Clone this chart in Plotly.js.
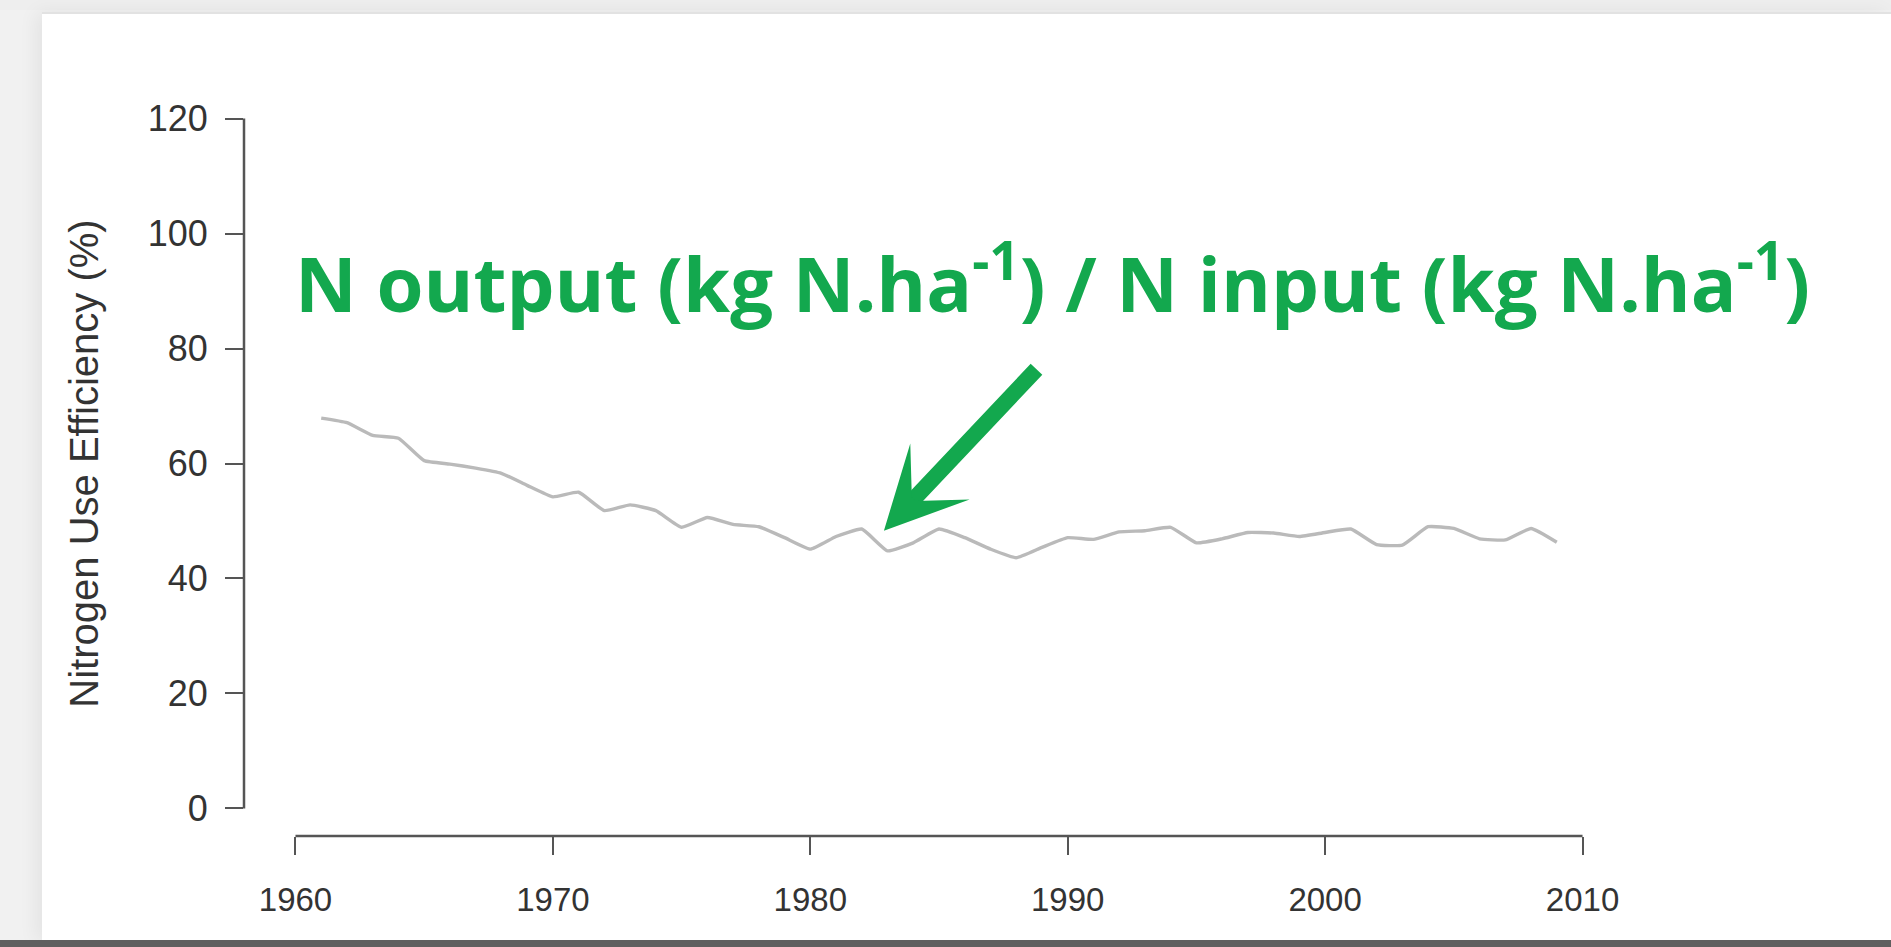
<!DOCTYPE html>
<html>
<head>
<meta charset="utf-8">
<script src="https://cdn.plot.ly/plotly-3.0.1.min.js"></script>
<style>
  html, body { margin: 0; padding: 0; width: 1891px; height: 947px; overflow: hidden; background: #f1f1f1; }
  #topband { position: absolute; left: 0; top: 0; width: 1891px; height: 10px; background: #eeeeee; }
  #card { position: absolute; left: 42px; top: 12px; width: 1849px; height: 927px; background: #ffffff;
          box-shadow: -6px 0 18px rgba(0,0,0,0.06); border-top: 2px solid #e2e2e2; }
  #bottomband { position: absolute; left: 0; top: 940px; width: 1891px; height: 7px; background: #5f5f5f; }
  #chart { position: absolute; left: 0; top: 0; width: 1891px; height: 947px; }
</style>
</head>
<body>
<div id="topband"></div>
<div id="card"></div>
<div id="bottomband"></div>
<div id="chart"></div>
<script>
// ---- data ----
const years = [1961,1962,1963,1964,1965,1966,1967,1968,1969,1970,
               1971,1972,1973,1974,1975,1976,1977,1978,1979,1980,
               1981,1982,1983,1984,1985,1986,1987,1988,1989,1990,
               1991,1992,1993,1994,1995,1996,1997,1998,1999,2000,
               2001,2002,2003,2004,2005,2006,2007,2008,2009];
const nue = [67.9,67.1,64.9,64.4,60.5,59.9,59.2,58.3,56.2,54.2,
             55.0,51.8,52.8,51.8,48.9,50.6,49.4,49.0,47.1,45.1,
             47.3,48.6,44.8,46.2,48.6,47.1,45.1,43.6,45.4,47.1,
             46.8,48.1,48.3,48.9,46.2,46.9,48.0,47.9,47.3,48.0,
             48.6,45.9,45.8,49.0,48.7,46.9,46.7,48.7,46.3];
const xTicks = [1960,1970,1980,1990,2000,2010];
const yTicks = [0,20,40,60,80,100,120];
const yTitle = "Nitrogen Use Efficiency (%)";
const noteText = "N output (kg N.ha<sup>-1</sup>) / N input (kg N.ha<sup>-1</sup>)";
const arrowTip = {x: 1982.86, y: 48.3};

const axisColor = "#555555";
const fam = "Liberation Sans, Arial, sans-serif";

const trace = {
  x: years, y: nue, type: "scatter", mode: "lines",
  line: {color: "#bababa", width: 3.4, shape: "spline", smoothing: 0.4},
  hoverinfo: "skip", showlegend: false
};

const layout = {
  width: 1891, height: 947,
  margin: {l: 243.5, r: 257, t: 91.4, b: 111.4, pad: 0},
  paper_bgcolor: "rgba(0,0,0,0)",
  plot_bgcolor: "rgba(0,0,0,0)",
  showlegend: false,
  xaxis: {
    range: [1958, 2012], showgrid: false, zeroline: false, showline: false,
    tickmode: "array", tickvals: xTicks, ticktext: xTicks.map(String),
    ticks: "outside", ticklen: 18, tickwidth: 2, tickcolor: axisColor,
    tickfont: {family: fam, size: 33, color: "#333333"},
    ticklabelstandoff: 16, automargin: false, fixedrange: true
  },
  yaxis: {
    range: [-4.8, 124.8], showgrid: false, zeroline: false, showline: false,
    tickmode: "array", tickvals: yTicks, ticktext: yTicks.map(String),
    ticks: "outside", ticklen: 18, tickwidth: 2, tickcolor: axisColor,
    tickfont: {family: fam, size: 36, color: "#333333"},
    ticklabelstandoff: 10, automargin: false, fixedrange: true,
    title: {text: yTitle, font: {family: fam, size: 40, color: "#333333"}, standoff: 36}
  },
  shapes: [
    {type: "line", xref: "x", yref: "paper",
     x0: xTicks[0], x1: xTicks[xTicks.length - 1], y0: 0, y1: 0,
     line: {color: axisColor, width: 2.5}},
    {type: "line", xref: "paper", yref: "y",
     x0: 0, x1: 0, y0: yTicks[0], y1: yTicks[yTicks.length - 1],
     line: {color: axisColor, width: 2.5}}
  ],
  annotations: [
    {text: noteText, xref: "paper", yref: "paper", x: 0.035, y: 0.748,
     xanchor: "left", yanchor: "middle", showarrow: false,
     font: {family: "Open Sans, Lato, sans-serif", size: 76, color: "#13a84e", weight: "bold"}},
    {text: "", xref: "x", yref: "y", x: arrowTip.x, y: arrowTip.y,
     showarrow: true, axref: "pixel", ayref: "pixel", ax: 154, ay: -163,
     arrowhead: 3, arrowsize: 0.85, arrowwidth: 16, arrowcolor: "#13a84e", standoff: 0}
  ]
};

Plotly.newPlot("chart", [trace], layout, {displayModeBar: false, staticPlot: true});
</script>
</body>
</html>
